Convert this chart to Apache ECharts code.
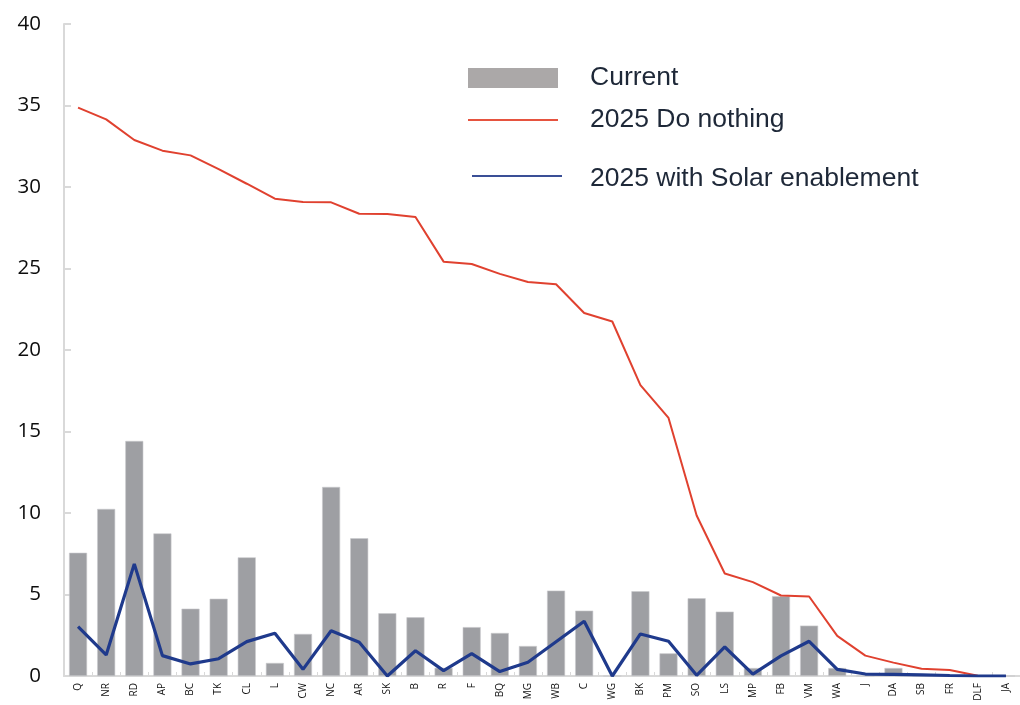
<!DOCTYPE html>
<html>
<head>
<meta charset="utf-8">
<script src="https://cdn.jsdelivr.net/npm/echarts@6/dist/echarts.min.js"></script>
<style>
  html, body { margin: 0; padding: 0; background: #ffffff; }
  #chart { width: 1020px; height: 705px; }
</style>
</head>
<body>
<div id="chart"></div>
<script>
// Site codes along the horizontal axis
const categories = ['Q', 'NR', 'RD', 'AP', 'BC', 'TK', 'CL', 'L', 'CW', 'NC', 'AR', 'SK', 'B', 'R', 'F', 'BQ', 'MG', 'WB', 'C', 'WG', 'BK', 'PM', 'SO', 'LS', 'MP', 'FB', 'VM', 'WA', 'J', 'DA', 'SB', 'FR', 'DLF', 'JA'];

// Current level (bars)
const current = [7.56, 10.25, 14.42, 8.75, 4.13, 4.74, 7.28, 0.8, 2.58, 11.6, 8.45, 3.85, 3.6, 0.5, 3.0, 2.64, 1.84, 5.24, 4.01, 0, 5.2, 1.39, 4.77, 3.95, 0.49, 4.9, 3.09, 0.49, 0, 0.49, 0, 0, 0, 0];

// 2025 projection without action
const doNothing = [34.87, 34.15, 32.88, 32.23, 31.94, 31.1, 30.2, 29.28, 29.08, 29.06, 28.36, 28.34, 28.16, 25.42, 25.28, 24.67, 24.17, 24.03, 22.27, 21.75, 17.85, 15.83, 9.85, 6.29, 5.76, 4.94, 4.88, 2.46, 1.25, 0.82, 0.45, 0.37, 0.02, 0];

// 2025 projection with solar enablement
const withSolar = [3.03, 1.29, 6.88, 1.25, 0.74, 1.06, 2.11, 2.62, 0.41, 2.78, 2.07, 0, 1.55, 0.33, 1.37, 0.27, 0.84, 2.1, 3.36, 0, 2.58, 2.13, 0.04, 1.78, 0.12, 1.23, 2.13, 0.41, 0.12, 0.1, 0.07, 0.03, 0, 0];

// Value axis ticks
const yMin = 0, yMax = 40, yStep = 5;

const seriesNames = ['Current', '2025 Do nothing', '2025 with Solar enablement'];

const chart = echarts.init(document.getElementById('chart'), null, { renderer: 'canvas' });

// Shared legend text style
function legendText(padLeft) {
  return {
    fontFamily: 'Liberation Sans, Arial, sans-serif',
    fontSize: 26.5,
    lineHeight: 30,
    color: '#1e2838',
    padding: [0, 0, 0, padLeft]
  };
}

// Thin key line drawn in the upper part of its box, so it sits a little above the label's middle
const raisedLineIcon = 'path://M0,0 H90 V2 H0 Z M0,7.99 H0.01 V8 H0 Z';

chart.setOption({
  animation: false,
  backgroundColor: '#ffffff',
  grid: { left: 64, right: 0, top: 24, bottom: 29, containLabel: false },
  legend: [
    {
      left: 468, top: 63, padding: 0, itemWidth: 90, itemHeight: 20, icon: 'rect',
      selectedMode: false, textStyle: legendText(27),
      data: [{ name: seriesNames[0], itemStyle: { color: '#aba8a8', borderWidth: 0 } }]
    },
    {
      left: 468, top: 105, padding: 0, itemWidth: 90, itemHeight: 2, icon: 'rect',
      selectedMode: false, textStyle: legendText(27),
      data: [{ name: seriesNames[1], itemStyle: { color: '#e6533f' } }]
    },
    {
      left: 472, top: 164, padding: 0, itemWidth: 90, itemHeight: 8, icon: raisedLineIcon,
      selectedMode: false, textStyle: legendText(23),
      data: [{ name: seriesNames[2], itemStyle: { color: '#3a4f96' } }]
    }
  ],
  xAxis: {
    type: 'category',
    data: categories,
    boundaryGap: true,
    axisLine: { lineStyle: { color: '#d9d9d9', width: 2 } },
    axisTick: { show: true, inside: true, length: 4, lineStyle: { color: '#d9d9d9', width: 1 } },
    axisLabel: {
      rotate: 90, interval: 0, margin: 7,
      fontFamily: 'Open Sans, sans-serif', fontSize: 10, color: '#111111'
    },
    splitLine: { show: false }
  },
  yAxis: {
    type: 'value',
    min: yMin, max: yMax, interval: yStep,
    axisLine: { show: true, lineStyle: { color: '#d9d9d9', width: 2 } },
    axisTick: { show: true, inside: true, length: 7, lineStyle: { color: '#d9d9d9', width: 2 } },
    axisLabel: {
      margin: 23,
      fontFamily: 'Open Sans, sans-serif', fontSize: 20.5, color: '#0d0d0d'
    },
    splitLine: { show: false }
  },
  series: [
    {
      name: seriesNames[0],
      type: 'bar',
      data: current,
      barWidth: '64%',
      itemStyle: { color: '#9e9fa3', borderColor: '#c9cacc', borderWidth: 0.6 },
      z: 1
    },
    {
      name: seriesNames[1],
      type: 'line',
      data: doNothing,
      symbol: 'none',
      lineStyle: { color: '#e0412f', width: 2 },
      itemStyle: { color: '#e0412f' },
      z: 3
    },
    {
      name: seriesNames[2],
      type: 'line',
      data: withSolar,
      symbol: 'none',
      lineStyle: { color: '#1f3a8c', width: 3.2 },
      itemStyle: { color: '#1f3a8c' },
      z: 4
    }
  ]
});
</script>
</body>
</html>
